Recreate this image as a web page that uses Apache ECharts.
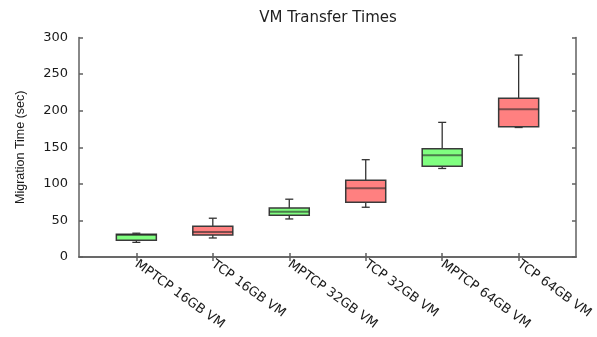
<!DOCTYPE html>
<html>
<head>
<meta charset="utf-8">
<script src="https://cdn.jsdelivr.net/npm/echarts@6/dist/echarts.min.js"></script>
<style>html,body{margin:0;padding:0;background:#fff;}#c{width:597px;height:337px;}</style>
</head>
<body>
<div id="c"></div>
<script>
const categories = ['MPTCP 16GB VM','TCP 16GB VM','MPTCP 32GB VM','TCP 32GB VM','MPTCP 64GB VM','TCP 64GB VM'];
const positions = [1, 2, 3, 4, 5, 6];
const minVals = [20, 26, 52, 68, 121, 177];
const q1Vals = [23, 30, 57, 75, 124, 178];
const medVals = [30, 34, 62, 94, 139, 202];
const q3Vals = [31, 42, 67, 105, 148, 217];
const maxVals = [32.5, 53, 79, 133, 184, 276];
const yTicks = [0, 50, 100, 150, 200, 250, 300];

const chart = echarts.init(document.getElementById('c'), null, {renderer: 'canvas'});

function buildData(kind) {
  const out = [];
  categories.forEach((c, i) => {
    if (c.startsWith(kind + ' ')) {
      out.push([positions[i], minVals[i], q1Vals[i], medVals[i], q3Vals[i], maxVals[i]]);
    }
  });
  return out;
}

function makeRender(fill) {
  return function (params, api) {
    const x = api.value(0);
    const pMin = api.coord([x, api.value(1)]);
    const pQ1 = api.coord([x, api.value(2)]);
    const pMed = api.coord([x, api.value(3)]);
    const pQ3 = api.coord([x, api.value(4)]);
    const pMax = api.coord([x, api.value(5)]);
    const bw = api.size([0.523, 0])[0];
    const cw = api.size([0.105, 0])[0];
    const cx = pMin[0];
    const lineStyle = {stroke: '#333', lineWidth: 1.3};
    return {
      type: 'group',
      children: [
        {type: 'line', shape: {x1: cx, y1: pMin[1], x2: cx, y2: pMax[1]}, style: lineStyle},
        {type: 'line', shape: {x1: cx - cw / 2, y1: pMin[1], x2: cx + cw / 2, y2: pMin[1]}, style: lineStyle},
        {type: 'line', shape: {x1: cx - cw / 2, y1: pMax[1], x2: cx + cw / 2, y2: pMax[1]}, style: lineStyle},
        {type: 'rect', shape: {x: cx - bw / 2, y: pQ3[1], width: bw, height: pQ1[1] - pQ3[1]},
          style: {fill: fill, stroke: '#3a3a3a', lineWidth: 1.5}},
        {type: 'line', shape: {x1: cx - bw / 2, y1: pMed[1], x2: cx + bw / 2, y2: pMed[1]},
          style: {stroke: 'rgba(40,40,40,0.6)', lineWidth: 2}}
      ]
    };
  };
}

const axisLineStyle = {color: '#606060', width: 1.5};

chart.setOption({
  animation: false,
  title: {
    text: 'VM Transfer Times',
    left: 323, top: 6, textAlign: 'center',
    textStyle: {fontFamily: 'DejaVu Sans', fontSize: 15, fontWeight: 'normal', color: '#222'}
  },
  grid: {left: 79, right: 21, top: 37.5, bottom: 80, containLabel: false},
  xAxis: [
    {
      type: 'value', position: 'bottom', min: 0.25, max: 6.75,
      splitLine: {show: false},
      axisLine: {show: true, lineStyle: axisLineStyle},
      axisTick: {show: true, inside: true, length: 4, customValues: positions, lineStyle: axisLineStyle},
      axisLabel: {
        customValues: positions, rotate: -36, margin: 6,
        fontFamily: 'DejaVu Sans', fontSize: 13, color: '#1a1a1a',
        formatter: v => categories[positions.indexOf(Math.round(v))] || ''
      }
    },
    {
      type: 'value', position: 'top', min: 0.25, max: 6.75,
      splitLine: {show: false},
      axisLine: {show: true, lineStyle: axisLineStyle},
      axisTick: {show: true, inside: true, length: 4, customValues: positions, lineStyle: axisLineStyle},
      axisLabel: {show: false}
    }
  ],
  yAxis: [
    {
      type: 'value', position: 'left', min: 0, max: 300, interval: 50,
      name: 'Migration Time (sec)', nameLocation: 'middle', nameGap: 52,
      nameTextStyle: {fontFamily: 'Liberation Sans', fontSize: 12.5, color: '#1a1a1a'},
      splitLine: {show: false},
      axisLine: {show: true, lineStyle: axisLineStyle},
      axisTick: {show: true, inside: true, length: 4, lineStyle: axisLineStyle},
      axisLabel: {margin: 11, fontFamily: 'DejaVu Sans', fontSize: 13, color: '#1a1a1a',
        customValues: yTicks}
    },
    {
      type: 'value', position: 'right', min: 0, max: 300, interval: 50,
      splitLine: {show: false},
      axisLine: {show: true, lineStyle: axisLineStyle},
      axisTick: {show: true, inside: true, length: 4, lineStyle: axisLineStyle},
      axisLabel: {show: false}
    }
  ],
  series: [
    {type: 'custom', name: 'MPTCP', renderItem: makeRender('#80ff80'), data: buildData('MPTCP'),
      encode: {x: 0, y: [1, 2, 3, 4, 5]}},
    {type: 'custom', name: 'TCP', renderItem: makeRender('#ff8080'), data: buildData('TCP'),
      encode: {x: 0, y: [1, 2, 3, 4, 5]}}
  ]
});
</script>
</body>
</html>
